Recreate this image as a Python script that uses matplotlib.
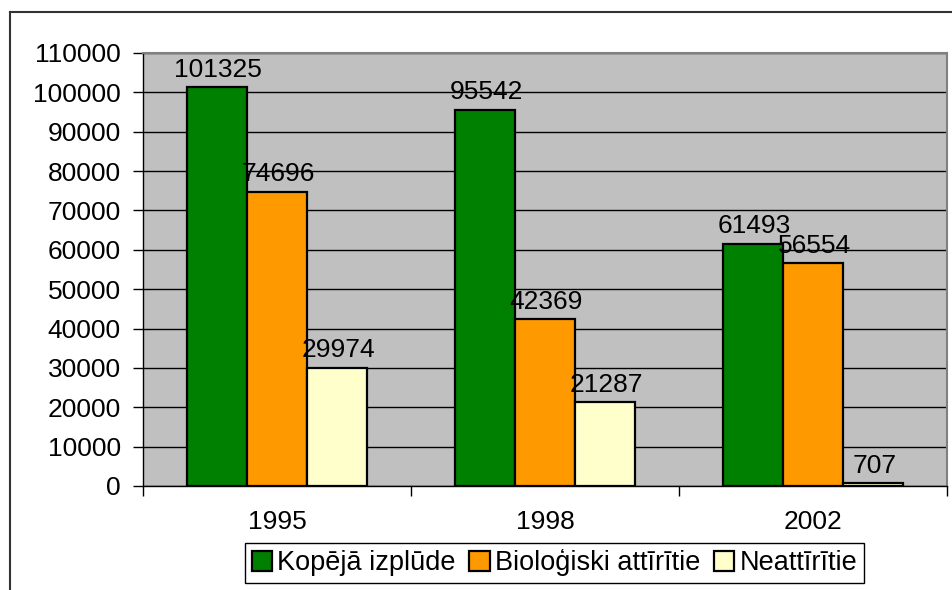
import numpy as np
from matplotlib import pyplot as plt
from matplotlib.lines import Line2D

years = ["1995", "1998", "2002"]
series_names = ["Kopējā izplūde", "Bioloģiski attīrītie", "Neattīrītie"]
kopeja = [101325, 95542, 61493]
biologiski = [74696, 42369, 56554]
neattiriti = [29974, 21287, 707]
colors = ["#008000", "#FF9900", "#FFFFCC"]

plt.rcParams["font.family"] = ["Liberation Sans", "DejaVu Sans"]

fig = plt.figure(figsize=(9.52, 5.90), dpi=100)
ax = fig.add_axes([0.1502, 0.1763, 0.8445, 0.7339])
ax.set_facecolor("#C0C0C0")

x = np.arange(len(years))
width = 0.224
for i, (vals, name, c) in enumerate(zip([kopeja, biologiski, neattiriti], series_names, colors)):
    pos = x + (i - 1) * width
    ax.bar(pos, vals, width, color=c, edgecolor="black", linewidth=1.6, label=name, zorder=3)
    for p, v in zip(pos, vals):
        ax.annotate(str(v), (p, v), xytext=(1, 4), textcoords="offset points",
                    ha="center", va="bottom", fontsize=19, zorder=4)

ax.set_xlim(-0.5, 2.5)
ax.set_ylim(0, 110000)
ax.set_yticks(np.arange(0, 110001, 10000))
ax.yaxis.grid(True, color="black", linewidth=1.0, zorder=0)
ax.set_axisbelow(True)

ax.set_xticks(x)
ax.set_xticklabels(years)
ax.set_xticks([-0.5, 0.5, 1.5, 2.5], minor=True)
ax.tick_params(axis="x", which="major", length=0, pad=17, labelsize=19)
ax.tick_params(axis="x", which="minor", length=7, width=1, direction="out")
ax.tick_params(axis="y", length=7, width=1, pad=9, labelsize=19)

for s in ["left", "bottom"]:
    ax.spines[s].set_color("black")
    ax.spines[s].set_linewidth(1)
for s in ["top", "right"]:
    ax.spines[s].set_color("#808080")
    ax.spines[s].set_linewidth(1.5)

leg = fig.legend(loc="center", bbox_to_anchor=(0.5825, 0.0458), ncol=3, fontsize=19.5,
                 frameon=True, fancybox=False, edgecolor="black", handlelength=0.75,
                 handleheight=0.75, handletextpad=0.2, columnspacing=0.5,
                 borderpad=0.25, framealpha=1)
leg.get_frame().set_linewidth(1)

# outer chart frame
fig.add_artist(Line2D([10 / 952, 1.0], [1 - 12 / 590] * 2, color="#333333", linewidth=1.5,
                      transform=fig.transFigure))
fig.add_artist(Line2D([10 / 952] * 2, [0.0, 1 - 12 / 590], color="#333333", linewidth=1.5,
                      transform=fig.transFigure))

fig.savefig("out.png", dpi=100)
